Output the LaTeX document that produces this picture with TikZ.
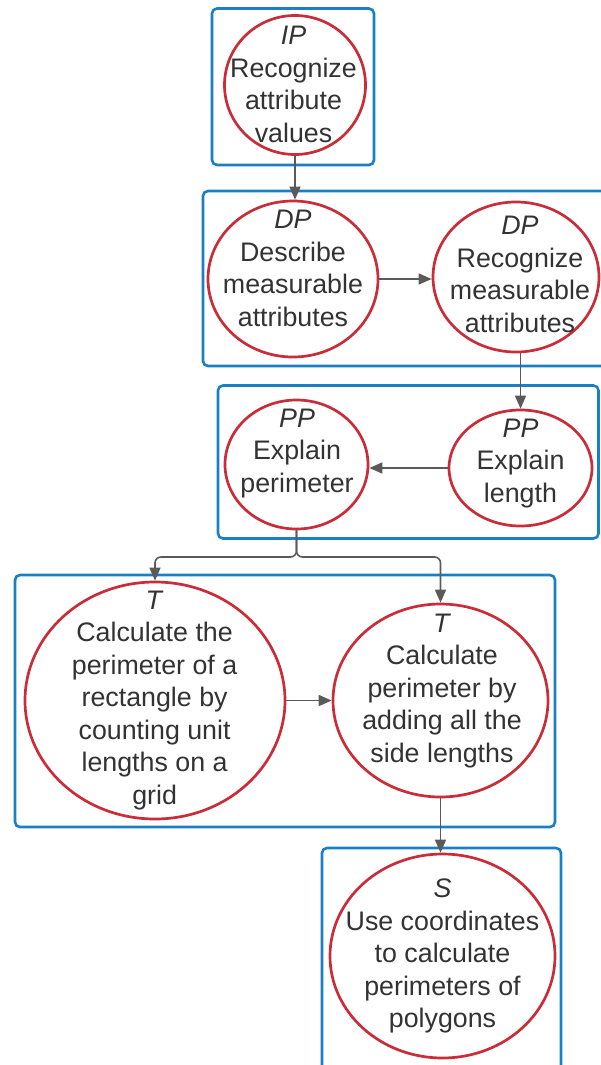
\documentclass[tikz,border=0pt]{standalone}
\usepackage{fontspec}
\setmainfont{Liberation Sans}
\usetikzlibrary{shapes.geometric,arrows.meta}
\definecolor{boxblue}{RGB}{26,127,196}
\definecolor{cred}{RGB}{201,45,57}
\definecolor{tgray}{RGB}{51,51,51}
\definecolor{agray}{RGB}{90,90,90}
\begin{document}
\begin{tikzpicture}[x=1pt,y=-1pt,
 grp/.style={draw=boxblue,line width=2.6pt,rounded corners=5pt},
 circ/.style={ellipse,draw=cred,line width=2.7pt,inner sep=0pt,fill=white},
 txt/.style={font=\fontsize{26.8}{32.5}\selectfont,text=tgray,align=center,inner sep=0pt},
 conn/.style={draw=agray,line width=1.6pt,-{Triangle[length=13pt,width=11pt]}}]
\useasboundingbox (0,0) rectangle (601,1065);
% group frames
\draw[grp] (212,8.5) rectangle (374,165);
\draw[grp] (203,191) rectangle (620,366);
\draw[grp] (218,385.5) rectangle (598.5,538.5);
\draw[grp] (15,575) rectangle (555,827);
\draw[grp] (322,848) rectangle (561,1085);
% ellipses
\node[circ,minimum width=141pt,minimum height=139pt] (c1) at (295,85) {};
\node[circ,minimum width=170pt,minimum height=156pt] (c2) at (293,279) {};
\node[circ,minimum width=166pt,minimum height=150pt] (c3) at (516,277) {};
\node[circ,minimum width=143pt,minimum height=129pt] (c4) at (296.5,464.5) {};
\node[circ,minimum width=143pt,minimum height=116pt] (c5) at (520.5,468) {};
\node[circ,minimum width=260pt,minimum height=237pt] (c6) at (155,700.5) {};
\node[circ,minimum width=215pt,minimum height=193pt] (c7) at (440.5,700.5) {};
\node[circ,minimum width=225pt,minimum height=204pt] (c8) at (442.5,956) {};
% texts
\node[txt] (t1) at (293.5,87) {\strut\textit{IP}\\Recognize\\attribute\\values\strut};
\node[txt] (t2) at (293,271) {\strut\textit{DP}\\Describe\\measurable\\attributes\strut};
\node[txt] (t3) at (520,277) {\strut\textit{DP}\\Recognize\\measurable\\attributes\strut};
\node[txt] (t4) at (297,453) {\strut\textit{PP}\\Explain\\perimeter\strut};
\node[txt] (t5) at (520.5,463) {\strut\textit{PP}\\Explain\\length\strut};
\node[txt] (t6) at (154.6,700) {\strut\textit{T}\\Calculate the\\perimeter of a\\rectangle by\\counting unit\\lengths on a\\grid\strut};
\node[txt] (t7) at (442,690.5) {\strut\textit{T}\\Calculate\\perimeter by\\adding all the\\side lengths\strut};
\node[txt] (t8) at (442.5,956) {\strut\textit{S}\\Use coordinates\\to calculate\\perimeters of\\polygons\strut};
% connectors
\coordinate (sp) at (296.5,557);
\draw[conn] (c1.south) -- (c1.south |- c2.north);
\draw[conn] (c2.east) -- (c2.east -| c3.west);
\draw[conn] (c3.south -| c5.north) -- (c5.north);
\draw[conn] (c5.west) -- (c5.west -| c4.east);
\draw[conn,rounded corners=6pt] (c4.south) -- (sp) -| (c6.north);
\draw[conn,rounded corners=6pt] (c4.south) -- (sp) -| (c7.north);
\draw[conn] (c6.east) -- (c6.east -| c7.west);
\draw[conn] (c7.south) -- (c7.south |- c8.north);
\end{tikzpicture}
\end{document}
